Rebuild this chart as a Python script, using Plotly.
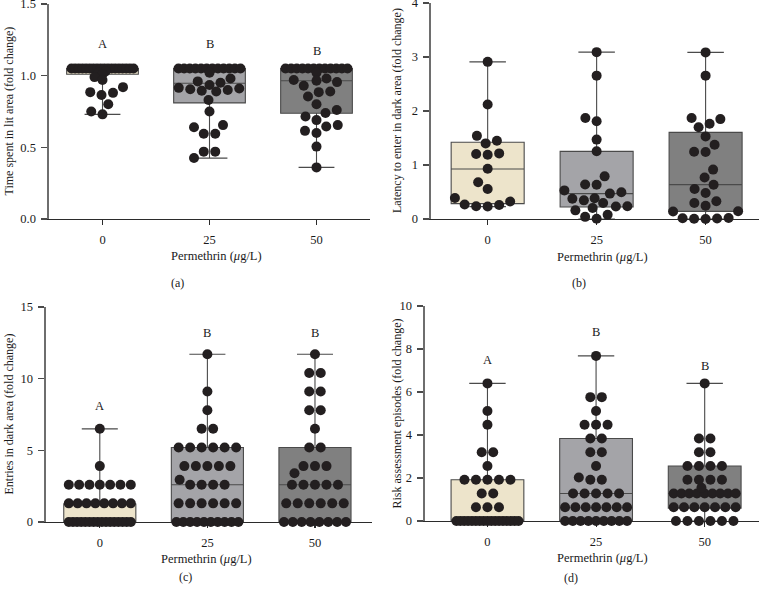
import numpy as np
import plotly.graph_objects as go

# ---------------- data ----------------
categories = ['0', '25', '50']

# (a) Time spent in lit area (fold change)
a_0 = [1.05, 1.05, 1.05, 1.05, 1.05, 1.05, 1.05, 1.05, 1.05, 1.05, 1.05, 1.05,
       1.05, 1.05, 1.05, 1.05, 1.05, 1.05, 1.03, 1.02, 1.01, 0.99, 0.97, 0.92,
       0.885, 0.88, 0.865, 0.80, 0.75, 0.73]
a_25 = [1.05, 1.05, 1.05, 1.05, 1.05, 1.05, 1.05, 1.05, 1.05, 1.05, 1.05, 1.05,
        1.02, 0.98, 0.96, 0.95, 0.935, 0.915, 0.91, 0.905, 0.90, 0.895, 0.89,
        0.83, 0.75, 0.655, 0.64, 0.595, 0.595, 0.47, 0.47, 0.425]
a_50 = [1.05, 1.05, 1.05, 1.05, 1.05, 1.05, 1.05, 1.05, 1.05, 1.05, 1.05, 1.05,
        1.02, 0.98, 0.97, 0.965, 0.955, 0.93, 0.89, 0.885, 0.855, 0.80, 0.76,
        0.74, 0.715, 0.69, 0.655, 0.645, 0.615, 0.60, 0.505, 0.36]
a_q1 = [1.01, 0.81, 0.738]
a_med = [1.05, 0.947, 0.965]
a_q3 = [1.05, 1.05, 1.05]
a_lo = [0.73, 0.425, 0.36]
a_hi = [1.05, 1.05, 1.05]
a_letters = ['A', 'B', 'B']
a_letter_y = [1.22, 1.22, 1.17]

# (b) Latency to enter in dark area (fold change)
b_0 = [2.91, 2.12, 1.54, 1.45, 1.40, 1.215, 1.19, 1.205, 0.93, 0.68, 0.555,
       0.39, 0.325, 0.27, 0.235, 0.23, 0.26]
b_25 = [3.09, 2.655, 1.87, 1.81, 1.47, 1.255, 0.79, 0.64, 0.635, 0.53, 0.495,
        0.47, 0.385, 0.375, 0.345, 0.295, 0.235, 0.23, 0.205, 0.16, 0.08, 0.04, 0.005]
b_50 = [3.085, 2.655, 1.87, 1.85, 1.765, 1.70, 1.53, 1.375, 1.245, 1.24, 0.915,
        0.77, 0.635, 0.555, 0.48, 0.33, 0.295, 0.245, 0.145, 0.14, 0.02, 0.015,
        0.005, 0.0, 0.01]
b_q1 = [0.284, 0.222, 0.142]
b_med = [0.926, 0.469, 0.636]
b_q3 = [1.42, 1.253, 1.605]
b_lo = [0.23, 0.0, 0.0]
b_hi = [2.91, 3.09, 3.085]

# (c) Entries in dark area (fold change): observed levels and how many fish per level
c_0_levels = [0, 1.3, 2.6, 3.9, 6.5]
c_0_counts = [16, 8, 7, 1, 1]
c_25_levels = [0, 1.3, 2.6, 2.95, 3.9, 5.2, 6.5, 7.8, 9.1, 11.7]
c_25_counts = [10, 6, 4, 1, 5, 6, 2, 1, 1, 1]
c_50_levels = [0, 1.3, 2.6, 3.4, 3.9, 5.2, 6.5, 7.8, 9.1, 10.4, 11.7]
c_50_counts = [8, 6, 5, 1, 3, 2, 1, 2, 2, 2, 1]
c_q1 = [0, 0, 0]
c_med = [0, 2.6, 2.6]
c_q3 = [1.25, 5.2, 5.2]
c_lo = [0, 0, 0]
c_hi = [6.5, 11.7, 11.7]
c_letters = ['A', 'B', 'B']
c_letter_y = [8.07, 13.2, 13.2]

# (d) Risk assessment episodes (fold change)
d_0_levels = [0, 0.64, 1.28, 1.92, 2.56, 3.2, 4.48, 5.12, 6.4]
d_0_counts = [17, 3, 2, 5, 1, 2, 1, 1, 1]
d_25_levels = [0, 0.64, 1.28, 1.92, 2.02, 2.56, 3.2, 3.84, 4.48, 5.12, 5.76, 7.68]
d_25_counts = [9, 7, 5, 2, 1, 1, 2, 2, 3, 1, 2, 1]
d_50_levels = [0, 0.64, 1.28, 1.55, 1.92, 2.56, 3.2, 3.84, 6.4]
d_50_counts = [6, 7, 9, 1, 4, 4, 2, 2, 1]
d_q1 = [0, 0, 0.6]
d_med = [0, 1.28, 1.28]
d_q3 = [1.92, 3.84, 2.56]
d_lo = [0, 0, 0]
d_hi = [6.4, 7.68, 6.4]
d_letters = ['A', 'B', 'B']
d_letter_y = [7.49, 8.78, 7.2]

# ---------------- styling / layout ----------------
W, H = 759, 603
FONT = 'Liberation Serif, Times New Roman, serif'
TXT = '#1a1a1a'
DOT = '#231f20'
fills = ['#ede4cb', '#a4a4a8', '#808080']
BOXLINE = '#4a4a4a'
DOT_SIZE = 10


def expand(levels, counts):
    return list(np.repeat(np.asarray(levels, float), np.asarray(counts, int)))


def swarm(vals, ppu, d=11.5, row_half=31.0, max_half=34.0):
    """Beeswarm offsets (pixels) for values, computed in pixel space."""
    vals = np.asarray(vals, float)
    n = len(vals)
    xs = np.full(n, np.nan)
    ys = vals * ppu
    uniq, cnts = np.unique(vals, return_counts=True)
    for u, k in zip(uniq, cnts):
        if k >= 2:
            idx = np.where(vals == u)[0]
            s = min(d, 2 * row_half / (k - 1))
            xs[idx] = (np.arange(k) - (k - 1) / 2) * s
    order = [i for i in np.argsort(vals, kind='stable') if np.isnan(xs[i])]
    grid = np.arange(-max_half, max_half + 0.01, 0.25)
    for i in order:
        placed = ~np.isnan(xs)
        if not placed.any():
            xs[i] = 0.0
            continue
        px = xs[placed]
        dy = np.abs(ys[placed] - ys[i])
        dist = np.sqrt((grid[:, None] - px[None, :]) ** 2 + dy[None, :] ** 2).min(axis=1)
        ok = dist >= d - 1e-9
        if ok.any():
            cand = grid[ok]
            xs[i] = cand[np.argmin(np.abs(cand))]
        else:
            inner = np.abs(grid) <= row_half
            g2, d2 = grid[inner], dist[inner]
            best = d2.max()
            cand = g2[d2 >= best - 0.3]
            xs[i] = cand[np.argmin(np.abs(cand))]
    return xs


panels = [
    dict(groups=[a_0, a_25, a_50], q1=a_q1, med=a_med, q3=a_q3, lo=a_lo, hi=a_hi,
         letters=a_letters, letter_y=a_letter_y,
         xpx=(49, 370), ypx=(4, 219), xr=(-0.5, 2.5), yr=(0, 1.5), dtick=0.5, fmt='.1f',
         ytitle='Time spent in lit area (fold change)', ytx=8,
         xtitle=(216, 256), sub=('(a)', 177, 283)),
    dict(groups=[b_0, b_25, b_50], q1=b_q1, med=b_med, q3=b_q3, lo=b_lo, hi=b_hi,
         letters=[], letter_y=[],
         xpx=(431, 759), ypx=(3, 219), xr=(-0.52, 2.49), yr=(0, 4), dtick=1, fmt='d',
         ytitle='Latency to enter in dark area (fold change)', ytx=397,
         xtitle=(602, 257), sub=('(b)', 579, 283)),
    dict(groups=[expand(c_0_levels, c_0_counts), expand(c_25_levels, c_25_counts),
                 expand(c_50_levels, c_50_counts)],
         q1=c_q1, med=c_med, q3=c_q3, lo=c_lo, hi=c_hi,
         letters=c_letters, letter_y=c_letter_y,
         xpx=(46, 372), ypx=(307, 522), xr=(-0.5, 2.53), yr=(0, 15), dtick=5, fmt='d',
         ytitle='Entries in dark area (fold change)', ytx=9,
         xtitle=(207, 559), sub=('(c)', 185, 577)),
    dict(groups=[expand(d_0_levels, d_0_counts), expand(d_25_levels, d_25_counts),
                 expand(d_50_levels, d_50_counts)],
         q1=d_q1, med=d_med, q3=d_q3, lo=d_lo, hi=d_hi,
         letters=d_letters, letter_y=d_letter_y,
         xpx=(425, 759), ypx=(306, 521), xr=(-0.575, 2.5), yr=(0, 10), dtick=2, fmt='d',
         ytitle='Risk assessment episodes (fold change)', ytx=396,
         xtitle=(602, 558), sub=('(d)', 571, 578)),
]

fig = go.Figure()
annotations = []
layout_axes = {}

for p_i, p in enumerate(panels):
    k = '' if p_i == 0 else str(p_i + 1)
    xa, ya = 'x' + k, 'y' + k
    x0, x1 = p['xpx']
    yt, yb = p['ypx']
    xdom = [x0 / W, min(x1 / W, 1.0)]
    ydom = [1 - yb / H, 1 - yt / H]
    px_per_cat = (x1 - x0) / (p['xr'][1] - p['xr'][0])
    px_per_unit = (yb - yt) / (p['yr'][1] - p['yr'][0])

    for g in range(3):
        fig.add_trace(go.Box(
            x=[g], q1=[p['q1'][g]], median=[p['med'][g]], q3=[p['q3'][g]],
            lowerfence=[p['lo'][g]], upperfence=[p['hi'][g]],
            width=0.67, whiskerwidth=0.5, boxpoints=False,
            fillcolor=fills[g], line=dict(color=BOXLINE, width=1.1),
            xaxis=xa, yaxis=ya, showlegend=False, hoverinfo='skip'))
    for g in range(3):
        vals = np.asarray(p['groups'][g], float)
        offs = swarm(vals, px_per_unit)
        fig.add_trace(go.Scatter(
            x=g + offs / px_per_cat, y=vals, mode='markers',
            marker=dict(size=DOT_SIZE, color=DOT, line=dict(width=0)),
            cliponaxis=False, xaxis=xa, yaxis=ya, showlegend=False, hoverinfo='skip'))

    layout_axes['xaxis' + k] = dict(
        domain=xdom, range=list(p['xr']), anchor=ya, tickmode='array', automargin=False,
        tickvals=[0, 1, 2], ticktext=categories, showline=True, linecolor='#2b2b2b',
        linewidth=1.2, ticks='outside', ticklen=5, tickwidth=1.1, tickcolor='#2b2b2b',
        showgrid=False, zeroline=False, fixedrange=True, layer='below traces',
        ticklabeloverflow='allow',
        tickfont=dict(family=FONT, size=12.5, color=TXT), ticklabelstandoff=4)
    layout_axes['yaxis' + k] = dict(
        domain=ydom, range=list(p['yr']), anchor=xa, dtick=p['dtick'], tick0=0, automargin=False,
        tickformat=p['fmt'], showline=True, linecolor='#6e6e6e', linewidth=1.6,
        ticks='outside', ticklen=6, tickwidth=1.1, tickcolor='#4a4a4a',
        showgrid=False, zeroline=False, fixedrange=True, layer='below traces',
        ticklabeloverflow='allow',
        tickfont=dict(family=FONT, size=12.5, color=TXT), ticklabelstandoff=3)

    for g, (lab, ly) in enumerate(zip(p['letters'], p['letter_y'])):
        annotations.append(dict(x=g, y=ly, xref=xa, yref=ya, text=lab, showarrow=False,
                                xanchor='center', yanchor='middle',
                                font=dict(family=FONT, size=12.5, color=TXT)))
    annotations.append(dict(x=p['ytx'] / W, y=(ydom[0] + ydom[1]) / 2, xref='paper', yref='paper',
                            text=p['ytitle'], textangle=-90, showarrow=False,
                            xanchor='center', yanchor='middle',
                            font=dict(family=FONT, size=12, color=TXT)))
    annotations.append(dict(x=p['xtitle'][0] / W, y=1 - p['xtitle'][1] / H, xref='paper', yref='paper',
                            text='Permethrin (<i>μ</i>g/L)', showarrow=False,
                            xanchor='center', yanchor='middle',
                            font=dict(family=FONT, size=12.5, color=TXT)))
    annotations.append(dict(x=p['sub'][1] / W, y=1 - p['sub'][2] / H, xref='paper', yref='paper',
                            text=p['sub'][0], showarrow=False,
                            xanchor='center', yanchor='middle',
                            font=dict(family=FONT, size=12, color=TXT)))

fig.update_layout(
    width=W, height=H, autosize=False, margin=dict(l=0, r=0, t=0, b=0, pad=0, autoexpand=False),
    paper_bgcolor='white', plot_bgcolor='white', boxmode='overlay', showlegend=False,
    hovermode=False, annotations=annotations, **layout_axes)

fig.write_html('out.html', config={'displayModeBar': False, 'staticPlot': True},
               post_script="document.body.style.margin='0px';document.body.style.overflow='hidden';")
